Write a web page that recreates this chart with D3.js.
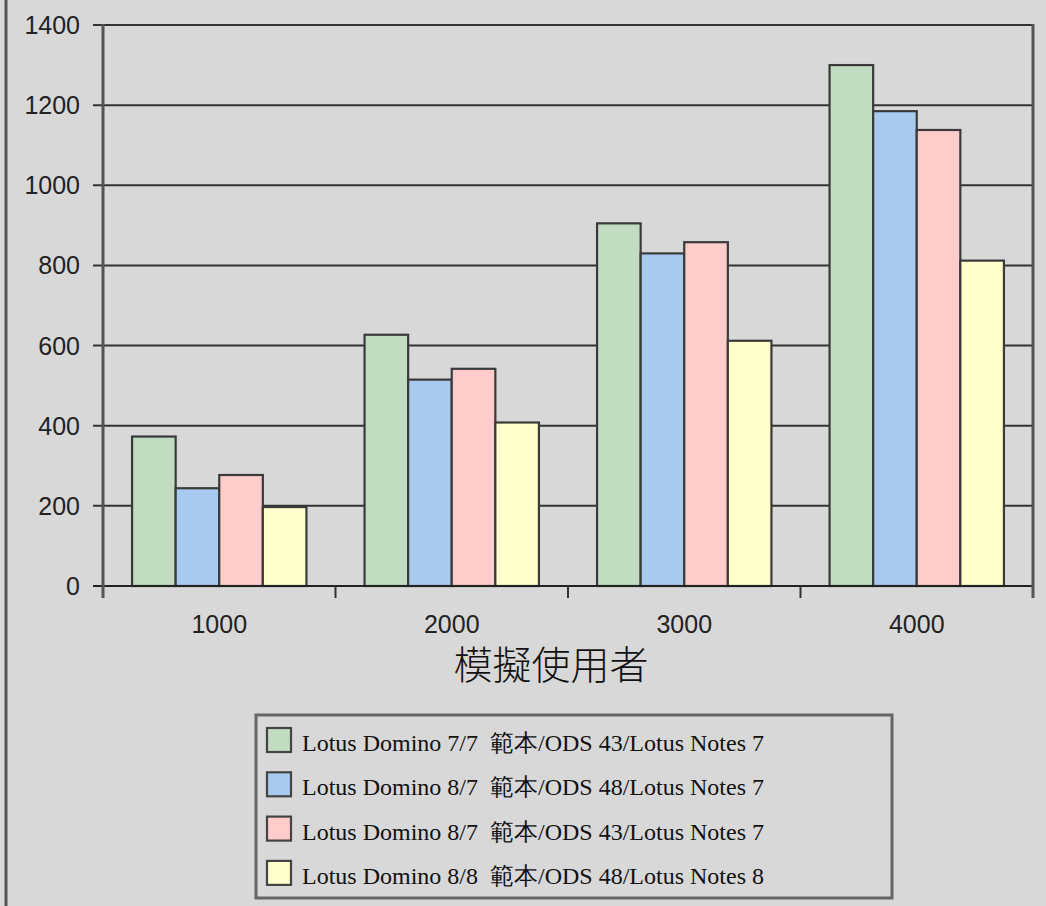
<!DOCTYPE html>
<html lang="zh-Hant">
<head>
  <meta charset="UTF-8">
  <title>模擬使用者</title>
  <style>
    body { margin: 0; padding: 0; background-color: #d8d8d8; }
    #chart { width: 1046px; height: 906px; }
    .tick-label { font-family: "Liberation Sans", Arial, sans-serif; font-size: 25px; fill: #222; }
    .legend-text { font-family: "Liberation Serif", "Times New Roman", serif; font-size: 24px; fill: #111; white-space: pre; }
    .axis-title { font-family: "Noto Sans CJK TC", sans-serif; font-size: 39px; font-weight: 300; fill: #111; }
  </style>
</head>
<body>
<div id="chart"></div>
<script src="https://d3js.org/d3.v7.min.js"></script>
<script>
  // Data
  const categories = ["1000", "2000", "3000", "4000"];
  const seriesNames = [
    "Lotus Domino 7/7  範本/ODS 43/Lotus Notes 7",
    "Lotus Domino 8/7  範本/ODS 48/Lotus Notes 7",
    "Lotus Domino 8/7  範本/ODS 43/Lotus Notes 7",
    "Lotus Domino 8/8  範本/ODS 48/Lotus Notes 8"
  ];
  const seriesColors = ["#c2dcc2", "#a9caef", "#ffcccc", "#ffffcc"];
  const domino77ods43 = [373, 627, 905, 1300];
  const domino87ods48 = [244, 515, 830, 1185];
  const domino87ods43 = [277, 542, 858, 1138];
  const domino88ods48 = [197, 408, 612, 812];
  const yTicks = [0, 200, 400, 600, 800, 1000, 1200, 1400];
  const xTitle = "模擬使用者";

  const series = [domino77ods43, domino87ods48, domino87ods43, domino88ods48];

  const width = 1046, height = 906;
  const plot = { left: 103, right: 1033, top: 25, bottom: 586 };

  const svg = d3.select("#chart").append("svg")
      .attr("width", width)
      .attr("height", height);

  svg.append("rect").attr("width", width).attr("height", height).attr("fill", "#d8d8d8");

  // left page border
  svg.append("line")
      .attr("x1", 6).attr("x2", 6).attr("y1", 0).attr("y2", height)
      .attr("stroke", "#555").attr("stroke-width", 3);

  const y = d3.scaleLinear().domain([0, 1400]).range([plot.bottom, plot.top]);
  const x0 = d3.scaleBand().domain(categories).range([plot.left, plot.right])
      .paddingInner(0.25).paddingOuter(0.125);
  const x1 = d3.scaleBand().domain(d3.range(series.length)).range([0, x0.bandwidth()]);

  // gridlines + y tick labels
  svg.selectAll("line.grid")
      .data(yTicks)
      .enter().append("line")
      .attr("class", "grid")
      .attr("x1", plot.left - 10).attr("x2", plot.right)
      .attr("y1", d => y(d)).attr("y2", d => y(d))
      .attr("stroke", "#333").attr("stroke-width", 2);

  svg.selectAll("text.ylab")
      .data(yTicks)
      .enter().append("text")
      .attr("class", "tick-label ylab")
      .attr("x", 80).attr("y", d => y(d))
      .attr("dy", "0.36em")
      .attr("text-anchor", "end")
      .text(d => d);

  // bars
  const groups = svg.selectAll("g.group")
      .data(categories)
      .enter().append("g")
      .attr("class", "group")
      .attr("transform", d => `translate(${x0(d)},0)`);

  groups.selectAll("rect")
      .data((c, ci) => series.map((s, si) => ({ si, value: s[ci] })))
      .enter().append("rect")
      .attr("x", d => x1(d.si))
      .attr("y", d => y(d.value))
      .attr("width", x1.bandwidth())
      .attr("height", d => plot.bottom - y(d.value))
      .attr("fill", d => seriesColors[d.si])
      .attr("stroke", "#3a3a3a")
      .attr("stroke-width", 2.2);

  // baseline
  svg.append("line")
      .attr("x1", plot.left - 10).attr("x2", plot.right)
      .attr("y1", plot.bottom).attr("y2", plot.bottom)
      .attr("stroke", "#222").attr("stroke-width", 2);

  // left axis and right frame
  [plot.left, plot.right].forEach(xp => {
    svg.append("line")
        .attr("x1", xp).attr("x2", xp)
        .attr("y1", plot.top - 1).attr("y2", plot.bottom + 12)
        .attr("stroke", "#555").attr("stroke-width", 3);
  });

  // category boundary ticks
  const step = x0.step();
  svg.selectAll("line.xtick")
      .data(categories.slice(1))
      .enter().append("line")
      .attr("class", "xtick")
      .attr("x1", d => x0(d) - step * 0.125).attr("x2", d => x0(d) - step * 0.125)
      .attr("y1", plot.bottom).attr("y2", plot.bottom + 12)
      .attr("stroke", "#333").attr("stroke-width", 2);

  svg.selectAll("text.xlab")
      .data(categories)
      .enter().append("text")
      .attr("class", "tick-label xlab")
      .attr("x", d => x0(d) + x0.bandwidth() / 2)
      .attr("y", 633)
      .attr("text-anchor", "middle")
      .text(d => d);

  svg.append("text")
      .attr("class", "axis-title")
      .attr("x", 551).attr("y", 679)
      .attr("text-anchor", "middle")
      .text(xTitle);

  // legend
  const legend = svg.append("g");
  legend.append("rect")
      .attr("x", 256).attr("y", 715)
      .attr("width", 636).attr("height", 183)
      .attr("fill", "none")
      .attr("stroke", "#666").attr("stroke-width", 3);

  const rows = legend.selectAll("g.row")
      .data(seriesNames)
      .enter().append("g")
      .attr("class", "row")
      .attr("transform", (d, i) => `translate(0,${740 + i * 44.3})`);

  rows.append("rect")
      .attr("x", 267).attr("y", -12)
      .attr("width", 24).attr("height", 24)
      .attr("fill", (d, i) => seriesColors[i])
      .attr("stroke", "#444").attr("stroke-width", 2.2);

  rows.append("text")
      .attr("class", "legend-text")
      .attr("x", 302).attr("y", 11)
      .text(d => d);
</script>
</body>
</html>
